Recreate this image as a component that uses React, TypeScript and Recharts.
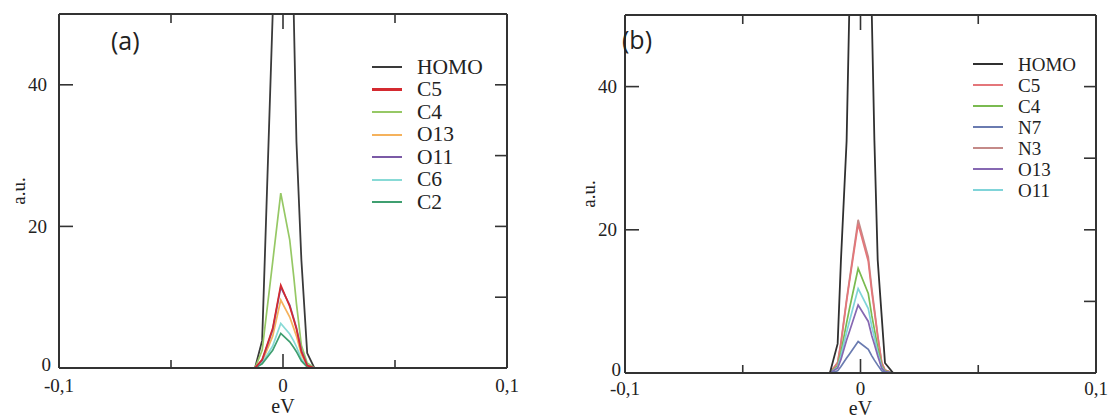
import React from 'react';
import { LineChart, Line, XAxis, YAxis, Legend } from 'recharts';

// ---------- Panel (a) data ----------
const xA = [-0.1, -0.0125, -0.0093, -0.0046, -0.001, 0.003, 0.0048, 0.006, 0.0082, 0.0108, 0.014, 0.1];
const homoA = [0, 0, 3.9, 50, 90, 70, 50, 32, 15.3, 2.1, 0, 0];
const c5A = [0, 0, 1.2, 5.6, 11.7, 8.7, 6.8, 5.5, 2.3, 0.35, 0, 0];
const c4A = [0, 0, 2.5, 15, 24.7, 18.1, 12.9, 9.1, 3.2, 0.7, 0, 0];
const o13A = [0, 0, 0.9, 4.5, 9.6, 7.2, 5.6, 4.5, 1.9, 0.3, 0, 0];
const o11A = [0, 0, 1.1, 5.4, 11.4, 8.9, 7.0, 5.7, 2.5, 0.4, 0, 0];
const c6A = [0, 0, 0.7, 3.1, 6.3, 4.8, 3.8, 3.0, 1.3, 0.2, 0, 0];
const c2A = [0, 0, 0.6, 2.5, 4.9, 3.7, 2.9, 2.3, 1.0, 0.15, 0, 0];

// ---------- Panel (b) data ----------
const xB = [-0.1, -0.013, -0.0097, -0.0083, -0.0059, -0.0048, -0.001, 0.0033, 0.0048, 0.0059, 0.0073, 0.009, 0.0104, 0.0139, 0.1];
const homoB = [0, 0, 4.1, 15.8, 32.4, 50, 110, 80, 50, 32.5, 15.8, 7.9, 1.4, 0, 0];
const n3B = [0, 0, 1.5, 4.3, 10.3, 12.8, 21.4, 16.2, 11.8, 9.0, 5.3, 1.5, 0.4, 0, 0];
const c5B = [0, 0, 1.4, 4.1, 10.0, 12.5, 20.8, 15.6, 11.3, 8.6, 5.1, 1.4, 0.4, 0, 0];
const c4B = [0, 0, 1.0, 2.9, 7.0, 8.8, 14.6, 11.1, 8.0, 6.1, 3.6, 1.0, 0.3, 0, 0];
const o11B = [0, 0, 0.8, 2.4, 5.7, 7.1, 11.8, 9.0, 6.5, 5.0, 2.9, 0.8, 0.2, 0, 0];
const o13B = [0, 0, 0.7, 1.9, 4.6, 5.7, 9.5, 7.2, 5.2, 4.0, 2.4, 0.7, 0.2, 0, 0];
const n7B = [0, 0, 0.3, 0.9, 2.1, 2.6, 4.4, 3.3, 2.4, 1.8, 1.1, 0.3, 0.1, 0, 0];

// ---------- Axis ticks ----------
const xTicks = [-0.1, -0.05, 0, 0.05, 0.1];
const xTickLabels = ['-0,1', '', '0', '', '0,1'];
const xTopTicks = [-0.05, 0, 0.05];
const yTicks = [0, 20, 40];
const yTickLabels = ['0', '20', '40'];
const yRightTicks = [10, 20, 30, 40];

// ---------- Legends ----------
const legendA = ['HOMO', 'C5', 'C4', 'O13', 'O11', 'C6', 'C2'];
const legendB = ['HOMO', 'C5', 'C4', 'N7', 'N3', 'O13', 'O11'];

const dataA = xA.map((x, i) => ({
  x, HOMO: homoA[i], C5: c5A[i], C4: c4A[i], O13: o13A[i], O11: o11A[i], C6: c6A[i], C2: c2A[i],
}));
const dataB = xB.map((x, i) => ({
  x, HOMO: homoB[i], C5: c5B[i], C4: c4B[i], N7: n7B[i], N3: n3B[i], O13: o13B[i], O11: o11B[i],
}));

const colorsA: Record<string, string> = {
  HOMO: '#3a3a3a', C5: '#d42a30', C4: '#96c865', O13: '#f5b25c', O11: '#7b5aa6', C6: '#88dad6', C2: '#3f9f70',
};
const colorsB: Record<string, string> = {
  HOMO: '#303030', C5: '#e4767a', C4: '#7aba50', N7: '#6a7bb0', N3: '#c48a88', O13: '#8668b2', O11: '#80d4d9',
};
// drawing order (last drawn on top)
const drawA = ['HOMO', 'C4', 'O13', 'C6', 'C2', 'O11', 'C5'];
const drawB = ['N3', 'C5', 'C4', 'O11', 'O13', 'N7', 'HOMO'];

const SERIF = "'Liberation Serif', 'Times New Roman', Times, 'DejaVu Serif', serif";
const AX = '#333';

function tickRenderer(
  side: 'bottom' | 'top' | 'left' | 'right',
  values: number[],
  lens: number[],
  labels: string[] | null,
  gap: number,
  fontSize: number,
) {
  return (props: any) => {
    const { x, y, payload } = props;
    const idx = values.findIndex((v) => Math.abs(v - payload.value) < 1e-9);
    const len = idx >= 0 ? lens[idx] : 0;
    const lab = labels && idx >= 0 ? labels[idx] : '';
    let x2 = x;
    let y2 = y;
    if (side === 'bottom') y2 = y - len;
    else if (side === 'top') y2 = y + len;
    else if (side === 'left') x2 = x + len;
    else x2 = x - len;
    const isZeroY = side === 'left' && payload.value === 0;
    return (
      <g>
        {len > 0 && <line x1={x} y1={y} x2={x2} y2={y2} stroke={AX} strokeWidth={1.6} />}
        {lab !== '' &&
          (side === 'bottom' ? (
            <text x={x} y={y + gap} textAnchor="middle" dominantBaseline="central" style={{ fontFamily: SERIF }} fontSize={fontSize} fill="#222">
              {lab}
            </text>
          ) : (
            <text x={x - gap + (isZeroY ? 4 : 0)} y={y - (isZeroY ? 4 : 0)} textAnchor="end" dominantBaseline="central" style={{ fontFamily: SERIF }} fontSize={fontSize} fill="#222">
              {lab}
            </text>
          ))}
      </g>
    );
  };
}

function legendRenderer(order: string[], rowH: number, fontSize: number, lineW: number, textGap: number, thick: Record<string, number>) {
  return (props: any) => {
    const payload: any[] = props.payload || [];
    const items = order.map((n) => payload.find((p) => p.value === n)).filter(Boolean);
    return (
      <div>
        {items.map((it: any) => (
          <div key={it.value} style={{ height: rowH, display: 'flex', alignItems: 'center' }}>
            <span style={{ display: 'inline-block', width: lineW, height: thick[it.value] ?? 2, background: it.color }} />
            <span style={{ marginLeft: textGap, fontFamily: SERIF, fontSize, color: '#222', lineHeight: 1 }}>{it.value}</span>
          </div>
        ))}
      </div>
    );
  };
}

type PanelProps = {
  data: any[];
  colors: Record<string, string>;
  draw: string[];
  legendOrder: string[];
  width: number;
  plotLeft: number;
  plotRight: number;
  plotTop: number;
  plotBottom: number;
  yLabelX: number;
  yTickGap: number;
  xTickGap: number;
  xLabelOffset: number;
  legendLeft: number;
  legendTop: number;
  legendRow: number;
  legendFont: number;
  legendThick: Record<string, number>;
};

function Panel(p: PanelProps) {
  const H = 418;
  return (
    <LineChart width={p.width} height={H} data={p.data} margin={{ top: 0, right: 0, bottom: 0, left: 0 }}>
      <XAxis
        xAxisId="b"
        dataKey="x"
        type="number"
        domain={[-0.1, 0.1]}
        allowDataOverflow
        ticks={xTicks}
        interval={0}
        height={H - p.plotBottom}
        tickSize={0}
        tickMargin={0}
        axisLine={{ stroke: AX, strokeWidth: 2 }}
        tickLine={false}
        tick={tickRenderer('bottom', xTicks, [0, 8, 14, 8, 0], xTickLabels, p.xTickGap, 19)}
        label={{ value: 'eV', position: 'insideBottom', offset: p.xLabelOffset, fontSize: 20, fill: '#222', style: { fontFamily: SERIF } }}
      />
      <XAxis
        xAxisId="t"
        orientation="top"
        dataKey="x"
        type="number"
        domain={[-0.1, 0.1]}
        allowDataOverflow
        ticks={xTopTicks}
        interval={0}
        height={p.plotTop}
        tickSize={0}
        tickMargin={0}
        axisLine={{ stroke: AX, strokeWidth: 2 }}
        tickLine={false}
        tick={tickRenderer('top', xTopTicks, [9, 15, 9], null, 0, 18)}
      />
      <YAxis
        yAxisId="l"
        type="number"
        domain={[0, 50]}
        allowDataOverflow
        ticks={yTicks}
        interval={0}
        width={p.plotLeft}
        tickSize={0}
        tickMargin={0}
        axisLine={{ stroke: AX, strokeWidth: 2 }}
        tickLine={false}
        tick={tickRenderer('left', yTicks, [0, 14, 14], yTickLabels, p.yTickGap, 19)}
        label={{ value: 'a.u.', angle: -90, position: 'insideLeft', offset: p.yLabelX, fontSize: 19, fill: '#222', style: { textAnchor: 'middle', fontFamily: SERIF } }}
      />
      <YAxis
        yAxisId="r"
        orientation="right"
        type="number"
        domain={[0, 50]}
        allowDataOverflow
        ticks={yRightTicks}
        interval={0}
        width={p.width - p.plotRight}
        tickSize={0}
        tickMargin={0}
        axisLine={{ stroke: AX, strokeWidth: 2 }}
        tickLine={false}
        tick={tickRenderer('right', yRightTicks, [12, 12, 12, 12], null, 0, 18)}
      />
      <Legend
        layout="vertical"
        align="center"
        verticalAlign="middle"
        wrapperStyle={{ position: 'absolute', left: p.legendLeft, top: p.legendTop, width: 'auto', height: 'auto' }}
        content={legendRenderer(p.legendOrder, p.legendRow, p.legendFont, 30, 15, p.legendThick)}
      />
      {p.draw.map((k) => (
        <Line
          key={k}
          xAxisId="b"
          yAxisId="l"
          type="linear"
          dataKey={k}
          name={k}
          stroke={p.colors[k]}
          strokeWidth={k === 'HOMO' ? 1.8 : 1.7}
          dot={false}
          activeDot={false}
          isAnimationActive={false}
        />
      ))}
    </LineChart>
  );
}

export default function App() {
  return (
    <div style={{ position: 'absolute', left: 0, top: 0, width: 1109, height: 418, background: '#fff', overflow: 'hidden' }}>
      <div style={{ position: 'absolute', left: 0, top: 0 }}>
        <Panel
          data={dataA}
          colors={colorsA}
          draw={drawA}
          legendOrder={legendA}
          width={560}
          plotLeft={59}
          plotRight={507}
          plotTop={14}
          plotBottom={368}
          yLabelX={18}
          yTickGap={12}
          xTickGap={17}
          xLabelOffset={5}
          legendLeft={372}
          legendTop={56}
          legendRow={22.5}
          legendFont={21.5}
          legendThick={{ C5: 3 }}
        />
      </div>
      <div style={{ position: 'absolute', left: 555, top: 0 }}>
        <Panel
          data={dataB}
          colors={colorsB}
          draw={drawB}
          legendOrder={legendB}
          width={554}
          plotLeft={70}
          plotRight={541}
          plotTop={15}
          plotBottom={373}
          yLabelX={33}
          yTickGap={8}
          xTickGap={15}
          xLabelOffset={3}
          legendLeft={418}
          legendTop={53.5}
          legendRow={21}
          legendFont={19}
          legendThick={{}}
        />
      </div>
      <div style={{ position: 'absolute', left: 111, top: 27, fontFamily: '"Open Sans", "Liberation Sans", sans-serif', fontSize: 25, lineHeight: '26px', color: '#222' }}>(a)</div>
      <div style={{ position: 'absolute', left: 622, top: 26, fontFamily: '"Open Sans", "Liberation Sans", sans-serif', fontSize: 25, lineHeight: '26px', color: '#222' }}>(b)</div>
    </div>
  );
}
